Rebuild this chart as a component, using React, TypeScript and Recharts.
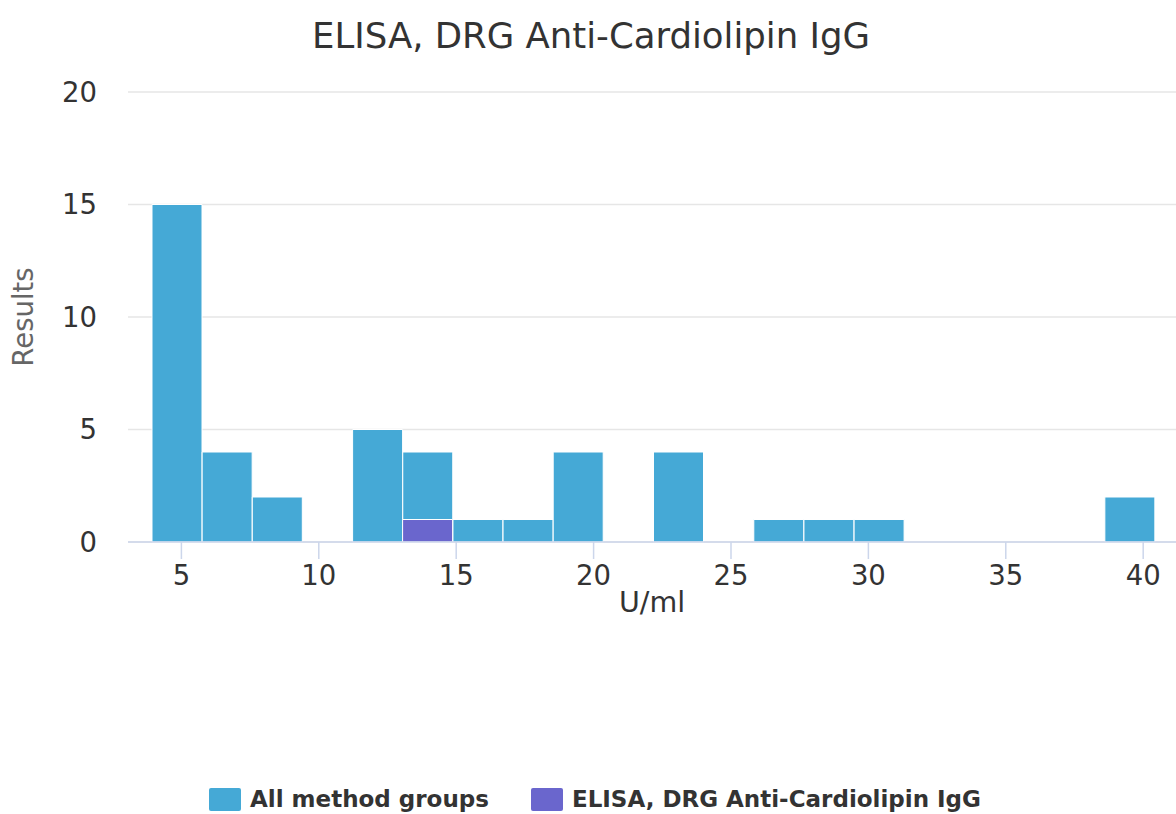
import React from 'react';
import { BarChart, Bar, XAxis, YAxis, CartesianGrid, Legend, Customized } from 'recharts';

// Histogram bins (U/ml): lower edges, plus the upper edge of the last bin
const binStarts = [3.93, 5.76, 7.58, 9.41, 11.23, 13.06, 14.88, 16.71, 18.53, 20.36, 22.18, 24.01, 25.83, 27.66, 29.48, 31.31, 33.13, 34.96, 36.78, 38.61];
const rangeMin = 3.93;
const rangeMax = 40.43;

// Counts per bin
const allMethodCounts = [15, 4, 2, 0, 5, 4, 1, 1, 4, 0, 4, 0, 1, 1, 1, 0, 0, 0, 0, 2];
const drgCounts = [0, 0, 0, 0, 0, 1, 0, 0, 0, 0, 0, 0, 0, 0, 0, 0, 0, 0, 0, 0];

const xTicks = [5, 10, 15, 20, 25, 30, 35, 40];
const yTicks = [0, 5, 10, 15, 20];

const seriesNames = ['All method groups', 'ELISA, DRG Anti-Cardiolipin IgG'];
const titleText = 'ELISA, DRG Anti-Cardiolipin IgG';
const xTitle = 'U/ml';
const yTitle = 'Results';

const data = binStarts.map((s, i) => ({ bin: String(s), start: s, all: allMethodCounts[i], drg: drgCounts[i] }));

const FONT = '"DejaVu Sans", sans-serif';
const AXIS_COLOR = '#ccd6eb';
const PAD = { left: 24, right: 21 };

const LegendContent = (props: any) => {
  const payload = props.payload || [];
  return (
    <div style={{ display: 'flex', alignItems: 'center', fontFamily: FONT, fontWeight: 'bold', fontSize: 23, color: '#333333', whiteSpace: 'nowrap' }}>
      {payload.map((p: any, i: number) => (
        <div key={i} style={{ display: 'flex', alignItems: 'center', marginRight: i === 0 ? 42 : 0 }}>
          <div style={{ width: 32, height: 23, background: p.color, borderRadius: 2, marginRight: 9 }} />
          <span>{p.value}</span>
        </div>
      ))}
    </div>
  );
};

const Title = () => (
  <text x={591} y={48} textAnchor="middle" fontFamily={FONT} fontSize={35.5} fill="#333333">
    {titleText}
  </text>
);

export default function App() {
  return (
    <div style={{ position: 'absolute', left: 0, top: 0, width: 1176, height: 814, background: '#ffffff' }}>
      <BarChart
        width={1176}
        height={814}
        data={data}
        margin={{ top: 92, right: 0, bottom: 192, left: 0 }}
        barCategoryGap={0}
        barGap="-100%"
      >
        <CartesianGrid xAxisId="val" vertical={false} stroke="#e6e6e6" strokeWidth={1.5} />
        <XAxis xAxisId="bins" dataKey="bin" type="category" hide height={0} padding={PAD} />
        <XAxis
          xAxisId="val"
          dataKey="start"
          type="number"
          domain={[rangeMin, rangeMax]}
          allowDataOverflow
          ticks={xTicks}
          interval={0}
          padding={PAD}
          height={80}
          tickSize={17}
          tickMargin={6.5}
          axisLine={{ stroke: AXIS_COLOR, strokeWidth: 1.5 }}
          tickLine={{ stroke: AXIS_COLOR, strokeWidth: 1.5 }}
          tick={{ fill: '#333333', fontSize: 27.5, fontFamily: FONT }}
          label={{ value: xTitle, position: 'insideTop', offset: 49.5, fill: '#333333', fontSize: 28.5, fontFamily: FONT }}
        />
        <YAxis
          type="number"
          domain={[0, 20]}
          ticks={yTicks}
          width={128}
          axisLine={false}
          tickLine={false}
          tickSize={0}
          tickMargin={31}
          tick={{ fill: '#333333', fontSize: 27.5, fontFamily: FONT }}
          label={(props: any) => {
            const vb = props.viewBox || { x: 0, y: 92, width: 128, height: 450 };
            const cx = vb.x + 33;
            const cy = vb.y + vb.height / 2;
            return (
              <text x={cx} y={cy} transform={`rotate(-90 ${cx} ${cy})`} textAnchor="middle" fontFamily={FONT} fontSize={27.5} fill="#666666">
                {yTitle}
              </text>
            );
          }}
        />
        <Bar xAxisId="bins" dataKey="all" name={seriesNames[0]} fill="#45a9d6" stroke="#ffffff" strokeWidth={1} isAnimationActive={false} />
        <Bar xAxisId="bins" dataKey="drg" name={seriesNames[1]} fill="#6a66cd" stroke="#ffffff" strokeWidth={1} isAnimationActive={false} />
        <Legend
          layout="horizontal"
          verticalAlign="middle"
          align="center"
          content={<LegendContent />}
          wrapperStyle={{ position: 'absolute', top: 786, left: 209, bottom: 'auto', width: 'auto', height: 23 }}
        />
        <Customized component={Title} />
      </BarChart>
    </div>
  );
}
